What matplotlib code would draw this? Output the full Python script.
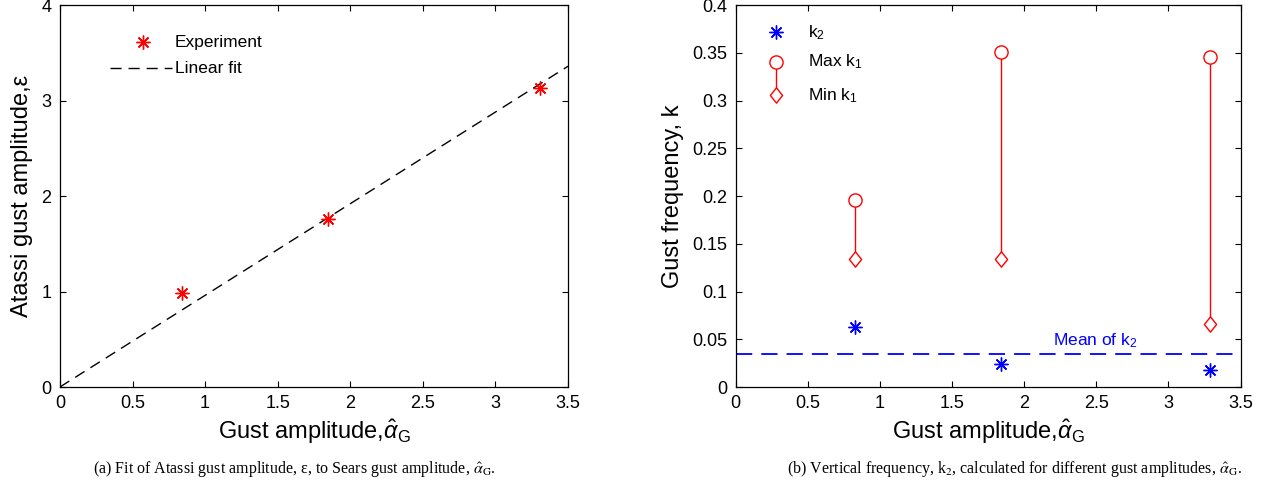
import numpy as np
import matplotlib
matplotlib.use('Agg')
import matplotlib.pyplot as plt

plt.rcParams['font.family'] = ['Liberation Sans', 'DejaVu Sans']
plt.rcParams['mathtext.fontset'] = 'custom'
plt.rcParams['mathtext.rm'] = 'Liberation Sans'
plt.rcParams['mathtext.it'] = 'Liberation Sans:italic'

# ── Data ──────────────────────────────────────────────
# (a) Atassi vs Sears gust amplitude
exp_x = [0.84, 1.85, 3.31]
exp_y = [0.98, 1.76, 3.13]
fit_x = [0.0, 3.5]
fit_y = [0.0, 3.36]

# (b) gust frequencies
amp_x = [0.83, 1.84, 3.29]
k2 = [0.063, 0.024, 0.018]
k1_max = [0.196, 0.351, 0.346]
k1_min = [0.134, 0.134, 0.066]
k2_mean = 0.035

RED = '#ff0000'
BLUE = '#0000ff'
ASTERISK = (8, 2, 0)       # MATLAB style '*': plus + cross
DIAMOND = [(0, 1), (0.8, 0), (0, -1), (-0.8, 0), (0, 1)]

fig = plt.figure(figsize=(12.75, 4.84), dpi=100)
ax1 = fig.add_axes([0.047, 0.2004, 0.3985, 0.789])
ax2 = fig.add_axes([0.577, 0.2004, 0.396, 0.789])

xlabel = r'Gust amplitude,$\hat{\alpha}_{\mathrm{G}}$'

for ax in (ax1, ax2):
    ax.tick_params(direction='in', top=True, right=True, length=4,
                   width=0.8, labelsize=13, pad=6)
    for s in ax.spines.values():
        s.set_linewidth(0.9)
    ax.set_xlim(0, 3.5)
    ax.set_xticks(np.arange(0, 3.51, 0.5))
    ax.set_xticklabels(['0', '0.5', '1', '1.5', '2', '2.5', '3', '3.5'])
    ax.set_xlabel(xlabel, fontsize=17, labelpad=4)

# ── Panel (a) ─────────────────────────────────────────
ax1.plot(fit_x, fit_y, color='black', lw=1, dashes=(8, 5))
ax1.plot(exp_x, exp_y, ls='none', marker=ASTERISK, ms=10, mew=1,
         color=RED)
ax1.set_ylim(0, 4)
ax1.set_yticks([0, 1, 2, 3, 4])
ax1.set_ylabel('Atassi gust amplitude,ε', fontsize=17, labelpad=6)

# legend (a)
t1 = ax1.transAxes
ax1.plot([0.163], [0.903], marker=ASTERISK, ms=10, mew=1, color=RED,
         transform=t1)
ax1.text(0.226, 0.903, 'Experiment', transform=t1, fontsize=12.5,
         va='center', ha='left')
ax1.plot([0.098, 0.22], [0.835, 0.835], color='black', lw=1,
         dashes=(8, 5), transform=t1)
ax1.text(0.226, 0.835, 'Linear fit', transform=t1, fontsize=12.5,
         va='center', ha='left')

# ── Panel (b) ─────────────────────────────────────────
ax2.axhline(k2_mean, color=BLUE, lw=1.3, dashes=(9, 5))
ax2.text(2.2, 0.049, r'Mean of k$_2$', color=BLUE, fontsize=12.5,
         va='center', ha='left')
ax2.vlines(amp_x, k1_min, k1_max, color=RED, lw=1)
ax2.plot(amp_x, k1_max, ls='none', marker='o', ms=9.5, mfc='white',
         mec=RED, mew=1)
ax2.plot(amp_x, k1_min, ls='none', marker=DIAMOND, ms=11, mfc='white',
         mec=RED, mew=1)
ax2.plot(amp_x, k2, ls='none', marker=ASTERISK, ms=10, mew=1,
         color=BLUE)
ax2.set_ylim(0, 0.4)
ax2.set_yticks(np.arange(0, 0.401, 0.05))
ax2.set_yticklabels(['0', '0.05', '0.1', '0.15', '0.2', '0.25', '0.3',
                     '0.35', '0.4'])
ax2.set_ylabel('Gust frequency, k', fontsize=17, labelpad=6)

# legend (b)
t2 = ax2.transAxes
ax2.plot([0.079], [0.929], marker=ASTERISK, ms=10, mew=1, color=BLUE,
         transform=t2)
ax2.text(0.143, 0.929, r'k$_2$', transform=t2, fontsize=12.5,
         va='center', ha='left')
ax2.plot([0.079, 0.079], [0.851, 0.764], color=RED, lw=1, transform=t2)
ax2.plot([0.079], [0.851], marker='o', ms=9.5, mfc='white', mec=RED,
         mew=1, transform=t2)
ax2.plot([0.079], [0.764], marker=DIAMOND, ms=11, mfc='white', mec=RED,
         mew=1, transform=t2)
ax2.text(0.143, 0.851, r'Max k$_1$', transform=t2, fontsize=12.5,
         va='center', ha='left')
ax2.text(0.143, 0.764, r'Min k$_1$', transform=t2, fontsize=12.5,
         va='center', ha='left')

# ── Captions ──────────────────────────────────────────
cap_kw = dict(family='Liberation Serif', fontsize=11.5, ha='center',
              va='center', math_fontfamily='stix')
fig.text(0.231, 0.03,
         r'(a) Fit of Atassi gust amplitude, ε, to Sears gust amplitude, '
         r'$\hat{\alpha}_{\mathrm{G}}$.', **cap_kw)
fig.text(0.796, 0.03,
         r'(b) Vertical frequency, k$_2$, calculated for different gust '
         r'amplitudes, $\hat{\alpha}_{\mathrm{G}}$.', **cap_kw)

fig.savefig('out.png', dpi=100)
